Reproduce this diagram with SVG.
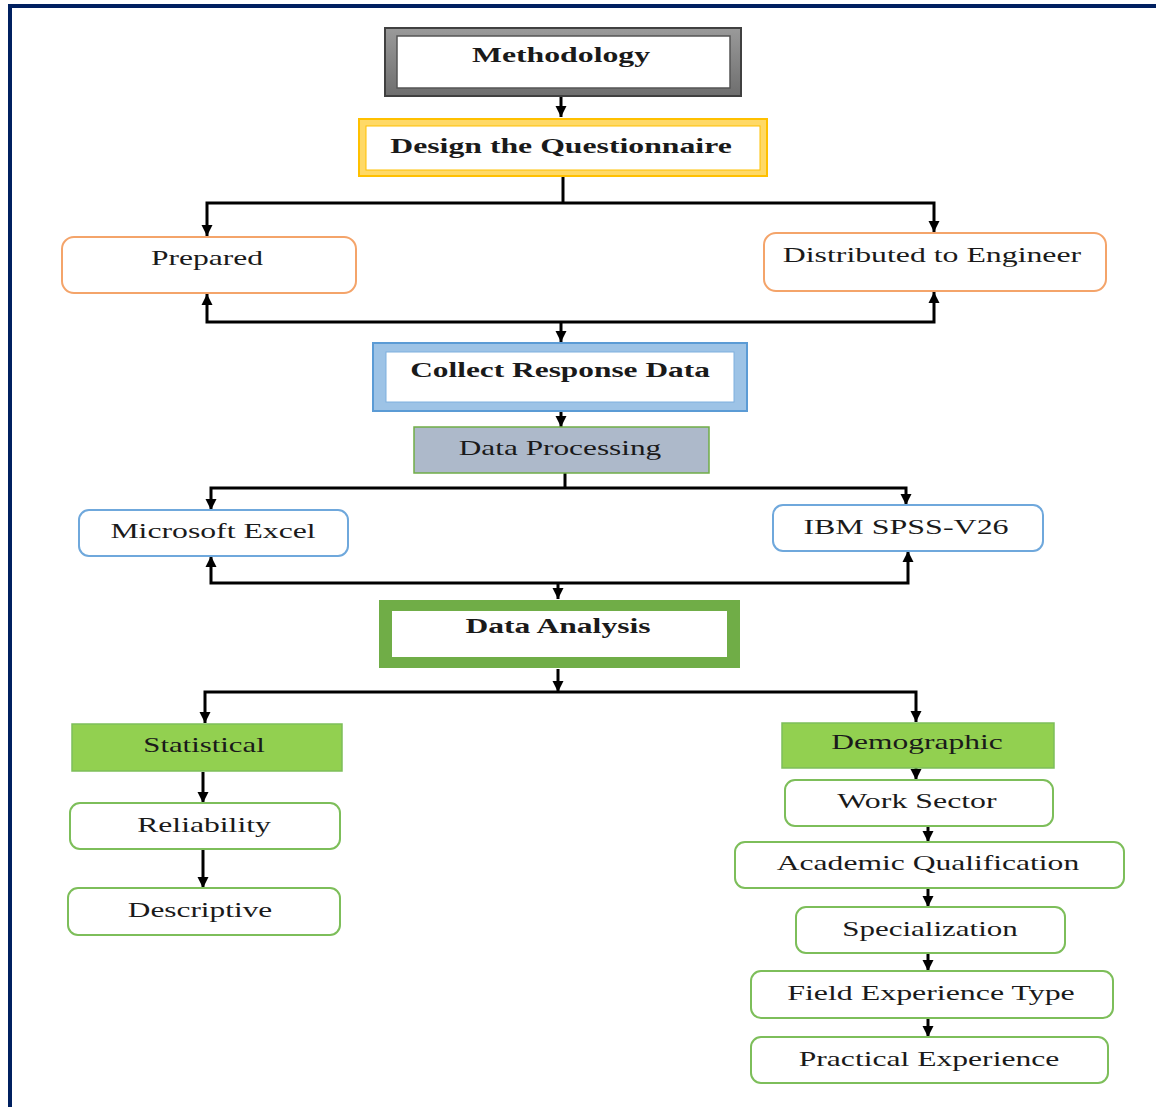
<svg xmlns="http://www.w3.org/2000/svg" width="1156" height="1107" viewBox="0 0 1156 1107">
<defs>
<marker id="ah" markerUnits="userSpaceOnUse" markerWidth="13" markerHeight="13" viewBox="0 0 13 13" refX="11" refY="6.5" orient="auto">
<path d="M0,1 L11,6.5 L0,12 Z" fill="#000"/>
</marker>
<linearGradient id="gray" x1="0" y1="0" x2="0" y2="1">
<stop offset="0" stop-color="#9a9a9a"/>
<stop offset="1" stop-color="#6e6e6e"/>
</linearGradient>
</defs>
<style>
.t{font-family:"Liberation Serif","Times New Roman",serif;font-size:22px;fill:#1a1a1a;text-anchor:middle}
.b{font-weight:bold}
.c{fill:none;stroke:#000;stroke-width:3}
.ca{fill:none;stroke:#000;stroke-width:3;marker-end:url(#ah)}
.orange{fill:#fff;stroke:#F4A46A;stroke-width:2}
.blue{fill:#fff;stroke:#6FA8DC;stroke-width:2}
.green{fill:#fff;stroke:#7DBE5A;stroke-width:2}
.gfill{fill:#92D050;stroke:#7DBE5A;stroke-width:1.5}
</style>
<rect width="1156" height="1107" fill="#fff"/>
<g id="frame">
<rect x="8" y="4" width="1148" height="4" fill="#002060"/>
<rect x="8" y="4" width="4" height="1103" fill="#002060"/>
</g>
<g id="connectors">
<path class="ca" d="M561,97 V117"/>
<path class="c" d="M563,177 V203"/>
<path class="ca" d="M563,203 H207 V236"/>
<path class="ca" d="M563,203 H934 V232"/>
<path class="ca" d="M561,322 H207 V294"/>
<path class="ca" d="M561,322 H934 V292"/>
<path class="ca" d="M561,322 V342"/>
<path class="ca" d="M561,412 V427"/>
<path class="c" d="M565,473 V488"/>
<path class="ca" d="M565,488 H211 V510"/>
<path class="ca" d="M565,488 H906 V505"/>
<path class="ca" d="M558,583 H211 V556"/>
<path class="ca" d="M558,583 H908 V551"/>
<path class="ca" d="M558,583 V599"/>
<path class="ca" d="M558,669 V692"/>
<path class="ca" d="M558,692 H205 V723"/>
<path class="ca" d="M558,692 H916 V722"/>
<path class="ca" d="M203,772 V803"/>
<path class="ca" d="M203,849 V888"/>
<path class="ca" d="M916,768 V780"/>
<path class="ca" d="M928,826 V842"/>
<path class="ca" d="M928,888 V907"/>
<path class="ca" d="M928,953 V971"/>
<path class="ca" d="M928,1018 V1037"/>
</g>
<g id="methodology">
<rect x="385" y="28" width="356" height="68" fill="url(#gray)" stroke="#404040" stroke-width="2"/>
<rect x="397" y="36" width="333" height="52" fill="#fff" stroke="#555" stroke-width="1.5"/>
<text class="t b" transform="translate(561,62) scale(1.35,1)" textLength="132" lengthAdjust="spacingAndGlyphs">Methodology</text>
</g>
<g id="design">
<rect x="359" y="119" width="408" height="57" fill="#FFD966" stroke="#FFC000" stroke-width="2"/>
<rect x="366" y="126" width="394" height="44" fill="#fff" stroke="#FFC000" stroke-width="1"/>
<text class="t b" transform="translate(561,153) scale(1.35,1)" textLength="253" lengthAdjust="spacingAndGlyphs">Design the Questionnaire</text>
</g>
<g id="prepared">
<rect class="orange" x="62" y="237" width="294" height="56" rx="12"/>
<text class="t" transform="translate(207,265) scale(1.35,1)" textLength="83" lengthAdjust="spacingAndGlyphs">Prepared</text>
</g>
<g id="distributed">
<rect class="orange" x="764" y="233" width="342" height="58" rx="12"/>
<text class="t" transform="translate(932,262) scale(1.35,1)" textLength="221" lengthAdjust="spacingAndGlyphs">Distributed to Engineer</text>
</g>
<g id="collect">
<rect x="373" y="343" width="374" height="68" fill="#9DC3E6" stroke="#5B9BD5" stroke-width="2"/>
<rect x="386" y="352" width="348" height="50" fill="#fff" stroke="#7FB0DE" stroke-width="1"/>
<text class="t b" transform="translate(560,377) scale(1.35,1)" textLength="222" lengthAdjust="spacingAndGlyphs">Collect Response Data</text>
</g>
<g id="processing">
<rect x="414" y="427" width="295" height="46" fill="#ADB9CA" stroke="#70AD47" stroke-width="1.5"/>
<text class="t" transform="translate(560,455) scale(1.35,1)" textLength="150" lengthAdjust="spacingAndGlyphs">Data Processing</text>
</g>
<g id="excel">
<rect class="blue" x="79" y="510" width="269" height="46" rx="10"/>
<text class="t" transform="translate(213,538) scale(1.35,1)" textLength="152" lengthAdjust="spacingAndGlyphs">Microsoft Excel</text>
</g>
<g id="spss">
<rect class="blue" x="773" y="505" width="270" height="46" rx="10"/>
<text class="t" transform="translate(906,534) scale(1.35,1)" textLength="152" lengthAdjust="spacingAndGlyphs">IBM SPSS-V26</text>
</g>
<g id="analysis">
<rect x="379" y="600" width="361" height="68" fill="#70AD47"/>
<rect x="392" y="611" width="335" height="46" fill="#fff"/>
<text class="t b" transform="translate(558,633) scale(1.35,1)" textLength="137" lengthAdjust="spacingAndGlyphs">Data Analysis</text>
</g>
<g id="statistical">
<rect class="gfill" x="72" y="724" width="270" height="47"/>
<text class="t" transform="translate(204,752) scale(1.35,1)" textLength="90" lengthAdjust="spacingAndGlyphs">Statistical</text>
</g>
<g id="reliability">
<rect class="green" x="70" y="803" width="270" height="46" rx="10"/>
<text class="t" transform="translate(204,832) scale(1.35,1)" textLength="99" lengthAdjust="spacingAndGlyphs">Reliability</text>
</g>
<g id="descriptive">
<rect class="green" x="68" y="888" width="272" height="47" rx="10"/>
<text class="t" transform="translate(200,917) scale(1.35,1)" textLength="107" lengthAdjust="spacingAndGlyphs">Descriptive</text>
</g>
<g id="demographic">
<rect class="gfill" x="782" y="723" width="272" height="45"/>
<text class="t" transform="translate(917,749) scale(1.35,1)" textLength="127" lengthAdjust="spacingAndGlyphs">Demographic</text>
</g>
<g id="worksector">
<rect class="green" x="785" y="780" width="268" height="46" rx="10"/>
<text class="t" transform="translate(917,808) scale(1.35,1)" textLength="118" lengthAdjust="spacingAndGlyphs">Work Sector</text>
</g>
<g id="academic">
<rect class="green" x="735" y="842" width="389" height="46" rx="10"/>
<text class="t" transform="translate(928,870) scale(1.35,1)" textLength="224" lengthAdjust="spacingAndGlyphs">Academic Qualification</text>
</g>
<g id="specialization">
<rect class="green" x="796" y="907" width="269" height="46" rx="10"/>
<text class="t" transform="translate(930,936) scale(1.35,1)" textLength="130" lengthAdjust="spacingAndGlyphs">Specialization</text>
</g>
<g id="fieldexp">
<rect class="green" x="751" y="971" width="362" height="47" rx="10"/>
<text class="t" transform="translate(931,1000) scale(1.35,1)" textLength="213" lengthAdjust="spacingAndGlyphs">Field Experience Type</text>
</g>
<g id="practical">
<rect class="green" x="751" y="1037" width="357" height="46" rx="10"/>
<text class="t" transform="translate(929,1066) scale(1.35,1)" textLength="193" lengthAdjust="spacingAndGlyphs">Practical Experience</text>
</g>
</svg>
